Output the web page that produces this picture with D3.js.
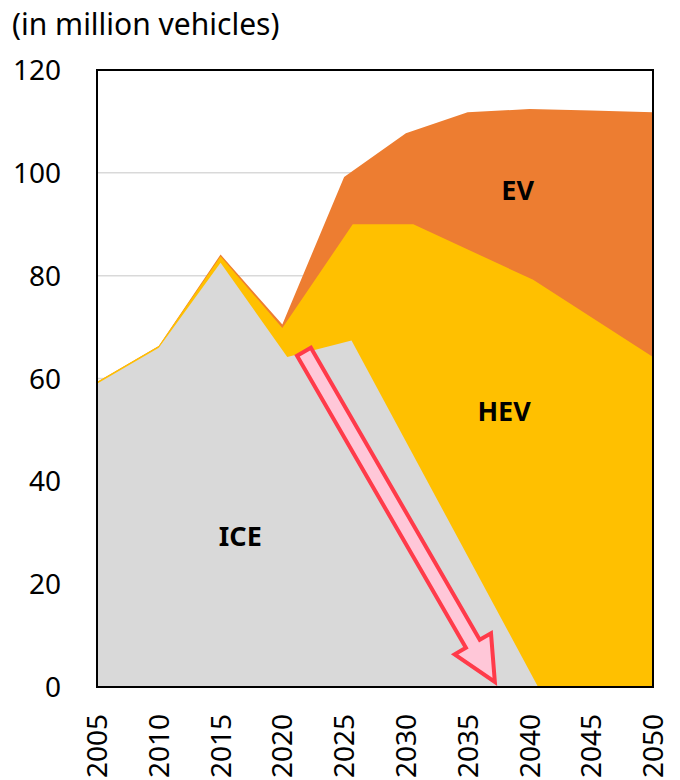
<!DOCTYPE html>
<html>
<head>
<meta charset="utf-8">
<script src="https://cdn.jsdelivr.net/npm/d3@7"></script>
<style>
  body { margin: 0; background: #fff; }
  svg { display: block; font-family: "Noto Sans", sans-serif; }
</style>
</head>
<body>
<div class="canva"></div>
<script>
// x ticks and y ticks
const xTicks = [2005, 2010, 2015, 2020, 2025, 2030, 2035, 2040, 2045, 2050];
const yTicks = [0, 20, 40, 60, 80, 100, 120];

// top edge of each stacked layer (cumulative)
const evYears  = [2005, 2010, 2015, 2020, 2025, 2030, 2035, 2040, 2045, 2050];
const evTop    = [59.3, 66.3, 84.1, 70.5, 99.2, 107.7, 111.8, 112.4, 112.1, 111.8];

const hevYears = [2005, 2010, 2015, 2020, 2025.7, 2030.6, 2040.3, 2050];
const hevTop   = [59.3, 66.3, 83.8, 69.8, 90.0, 90.0, 79.2, 64.2];

const iceYears = [2005, 2010, 2015, 2020.4, 2025.6, 2040.7];
const iceTop   = [59.0, 66.0, 82.5, 64.2, 67.4, 0];

// annotation arrow, start and end in data units
const arrowFrom = [2021.75, 65.2];
const arrowTo   = [2037.2, 1.0];

const width = 680, height = 780;
const margin = {top: 70, right: 27, bottom: 93, left: 97};

const svg = d3.select(".canva").append("svg")
  .attr("width", width)
  .attr("height", height);

const x = d3.scaleLinear()
  .domain([2005, 2050])
  .range([margin.left, width - margin.right]);

const y = d3.scaleLinear()
  .domain([0, 120])
  .range([height - margin.bottom, margin.top]);

// unit label
svg.append("text")
  .attr("x", 12).attr("y", 35)
  .text("(in million vehicles)")
  .style("font-size", "30px");

// gridlines
svg.append("g")
  .selectAll("line")
  .data(yTicks.filter(d => d > 0 && d < 120))
  .enter().append("line")
  .attr("x1", x(2005)).attr("x2", x(2050))
  .attr("y1", d => y(d)).attr("y2", d => y(d))
  .attr("stroke", "#d9d9d9")
  .attr("stroke-width", 1.5);

function layer(years, tops, color) {
  const pts = years.map((yr, i) => [yr, tops[i]]);
  const area = d3.area()
    .x(d => x(d[0]))
    .y0(y(0))
    .y1(d => y(d[1]));
  svg.append("path")
    .datum(pts)
    .attr("d", area)
    .attr("fill", color);
}

layer(evYears, evTop, "#ed7d31");
layer(hevYears, hevTop, "#ffc000");
layer(iceYears, iceTop, "#d9d9d9");

// frame
svg.append("rect")
  .attr("x", x(2005)).attr("y", y(120))
  .attr("width", x(2050) - x(2005))
  .attr("height", y(0) - y(120))
  .attr("fill", "none")
  .attr("stroke", "#000")
  .attr("stroke-width", 2);

// arrow
const ax0 = x(arrowFrom[0]), ay0 = y(arrowFrom[1]);
const ax1 = x(arrowTo[0]), ay1 = y(arrowTo[1]);
const len = Math.hypot(ax1 - ax0, ay1 - ay0);
const ux = (ax1 - ax0) / len, uy = (ay1 - ay0) / len;
const nx = -uy, ny = ux;
const shaftW = 8, headW = 21, headL = 44;
const bx = ax1 - ux * headL, by = ay1 - uy * headL;
const arrowPts = [
  [ax0 + nx * shaftW, ay0 + ny * shaftW],
  [bx + nx * shaftW, by + ny * shaftW],
  [bx + nx * headW, by + ny * headW],
  [ax1, ay1],
  [bx - nx * headW, by - ny * headW],
  [bx - nx * shaftW, by - ny * shaftW],
  [ax0 - nx * shaftW, ay0 - ny * shaftW]
];
svg.append("path")
  .attr("d", d3.line()(arrowPts) + "Z")
  .attr("fill", "#ffc7d8")
  .attr("stroke", "#ff3b4a")
  .attr("stroke-width", 4)
  .attr("stroke-linejoin", "miter");

// series labels
const labels = [
  {t: "EV", yr: 2039.05, v: 96.5},
  {t: "HEV", yr: 2037.95, v: 53.5},
  {t: "ICE", yr: 2016.6, v: 29.3}
];
svg.selectAll(".lbl")
  .data(labels)
  .enter().append("text")
  .attr("class", "lbl")
  .attr("x", d => x(d.yr))
  .attr("y", d => y(d.v))
  .attr("text-anchor", "middle")
  .attr("dy", "0.35em")
  .style("font-size", "27px")
  .style("font-weight", "bold")
  .text(d => d.t);

// y axis labels
svg.append("g")
  .selectAll("text")
  .data(yTicks)
  .enter().append("text")
  .attr("x", 61)
  .attr("y", d => y(d))
  .attr("dy", "0.36em")
  .attr("text-anchor", "end")
  .style("font-size", "28px")
  .text(d => d);

// x axis labels, rotated
svg.append("g")
  .selectAll("text")
  .data(xTicks)
  .enter().append("text")
  .attr("transform", d => `translate(${x(d)}, 714) rotate(-90)`)
  .attr("dy", "0.36em")
  .attr("text-anchor", "end")
  .style("font-size", "28px")
  .text(d => d);
</script>
</body>
</html>
